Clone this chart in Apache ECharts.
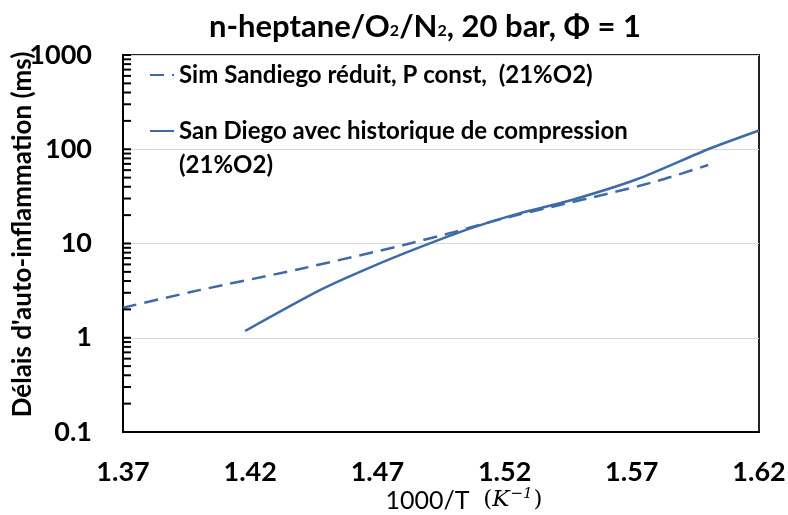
<!DOCTYPE html>
<html>
<head>
<meta charset="utf-8">
<script src="https://cdn.jsdelivr.net/npm/echarts@6/dist/echarts.min.js"></script>
<style>
  html, body { margin: 0; padding: 0; background: #fff; }
  #chart { width: 788px; height: 515px; }
</style>
</head>
<body>
<div id="chart"></div>
<script>
// Ignition delay vs inverse temperature, n-heptane / O2 / N2 at 20 bar, phi = 1
const seriesNames = [
  'Sim Sandiego réduit, P const,  (21%O2)',
  'San Diego avec historique de compression\n(21%O2)'
];

// Constant-pressure simulation (dashed)
const constPX = [1.37, 1.40, 1.44, 1.48, 1.50, 1.52, 1.54, 1.56, 1.58, 1.60];
const constPY = [2.08, 3.2, 5.4, 9.6, 13.2, 18.6, 25.0, 33.5, 46, 68];

// Simulation with compression history (solid)
const histX = [1.418, 1.4474, 1.467, 1.487, 1.506, 1.526, 1.545, 1.572, 1.60, 1.62];
const histY = [1.18, 3.2, 5.55, 9.2, 14.3, 21.0, 28.2, 48, 100, 158];

// Axis ticks
const xTicks = [1.37, 1.42, 1.47, 1.52, 1.57, 1.62];
const yMin = 0.1, yMax = 1000;
const yDecades = [0.1, 1, 10, 100, 1000];
const yMinorMultipliers = [2, 3, 4, 5, 6, 7, 8, 9];

// y tick positions: each decade plus log minor steps 2..9
const yTickValues = [];
yDecades.forEach(function (d) {
  yTickValues.push(d);
  if (d < yMax) yMinorMultipliers.forEach(function (m) { yTickValues.push(+(d * m).toPrecision(3)); });
});

const FONT = 'Lato';
const BLUE = '#3E6BA8';

const chart = echarts.init(document.getElementById('chart'), null, { renderer: 'canvas' });

chart.setOption({
  animation: false,
  backgroundColor: '#fff',
  title: {
    text: '{a|n-heptane/O}{s|2}{a|/N}{s|2}{a|, 20 bar, Φ = 1}',
    left: 204,
    top: 6,
    textStyle: {
      rich: {
        a: { fontFamily: FONT, fontWeight: 'bold', fontSize: 31, color: '#000' },
        s: { fontFamily: FONT, fontWeight: 'bold', fontSize: 16, color: '#000', verticalAlign: 'bottom', padding: [0, 0, 3, 0] }
      }
    }
  },
  legend: {
    left: 144,
    top: 53,
    orient: 'vertical',
    itemWidth: 24,
    itemHeight: 14,
    itemGap: -12,
    data: seriesNames,
    // a blank leading line keeps the icon level with the first line of a two-line entry
    formatter: function (name) { return name.indexOf('\n') >= 0 ? '\n' + name : name; },
    itemStyle: { color: 'rgba(0,0,0,0)', borderWidth: 0 },
    textStyle: {
      fontFamily: FONT, fontWeight: 'bold', fontSize: 24, color: '#000', lineHeight: 34
    }
  },
  grid: {
    left: 123, top: 55, width: 636, height: 377,
    outerBoundsMode: 'none',
    containLabel: false,
    show: true, borderColor: '#222', borderWidth: 2
  },
  xAxis: {
    type: 'value',
    min: 1.37,
    max: 1.62,
    name: '{n|1000/T }{p| (}{k|K}{u|−1}{p|)}',
    nameLocation: 'middle',
    nameGap: 55,
    nameMoveOverlap: false,
    nameTextStyle: {
      padding: [0, 0, 0, 46],
      rich: {
        n: { fontFamily: FONT, fontSize: 25, color: '#000' },
        p: { fontFamily: 'DejaVu Serif', fontSize: 23, color: '#000' },
        k: { fontFamily: 'DejaVu Serif', fontStyle: 'italic', fontSize: 23, color: '#000' },
        u: { fontFamily: 'DejaVu Serif', fontStyle: 'italic', fontSize: 15, color: '#000', verticalAlign: 'top', padding: [0, 1, 12, 1] }
      }
    },
    axisLine: { show: true, lineStyle: { color: '#000', width: 2 } },
    axisTick: { show: false },
    splitLine: { show: false },
    axisLabel: {
      customValues: xTicks,
      margin: 27,
      fontFamily: FONT, fontWeight: 'bold', fontSize: 27, color: '#000',
      formatter: function (v) { return v.toFixed(2); }
    }
  },
  yAxis: {
    type: 'log',
    logBase: 10,
    min: yMin,
    max: yMax,
    name: "{sp|}{t|Délais d'auto-inflammation (ms)}",
    nameLocation: 'middle',
    nameGap: 87,
    nameMoveOverlap: false,
    nameTextStyle: {
      rich: {
        t: { fontFamily: FONT, fontWeight: 'bold', fontSize: 26, color: '#000' },
        sp: { width: 18 }
      }
    },
    axisLine: { show: true, lineStyle: { color: '#000', width: 2 } },
    axisTick: { show: false },
    splitLine: { show: true, lineStyle: { color: '#d9d9d9', width: 1 } },
    axisLabel: {
      margin: 31,
      fontFamily: FONT, fontWeight: 'bold', fontSize: 27, color: '#000',
      formatter: function (v) { return v < 1 ? v.toFixed(1) : String(Math.round(v)); }
    }
  },
  series: [
    {
      name: seriesNames[0],
      type: 'line',
      symbol: 'none',
      smooth: 0.25,
      data: constPX.map(function (x, i) { return [x, constPY[i]]; }),
      lineStyle: { color: BLUE, width: 2.5, type: [14, 8] },
      itemStyle: { color: BLUE },
      z: 3
    },
    {
      name: seriesNames[1],
      type: 'line',
      symbol: 'none',
      smooth: 0.25,
      data: histX.map(function (x, i) { return [x, histY[i]]; }),
      lineStyle: { color: BLUE, width: 2.5, type: 'solid' },
      itemStyle: { color: BLUE },
      z: 3
    },
    {
      // inward tick marks along the log y axis
      name: 'yTicks',
      type: 'scatter',
      silent: true,
      clip: false,
      symbol: 'rect',
      symbolSize: [8, 2],
      symbolOffset: [4, 0],
      itemStyle: { color: '#000', opacity: 1 },
      data: yTickValues.map(function (v) { return [xTicks[0], v]; }),
      z: 10
    }
  ]
});
</script>
</body>
</html>
